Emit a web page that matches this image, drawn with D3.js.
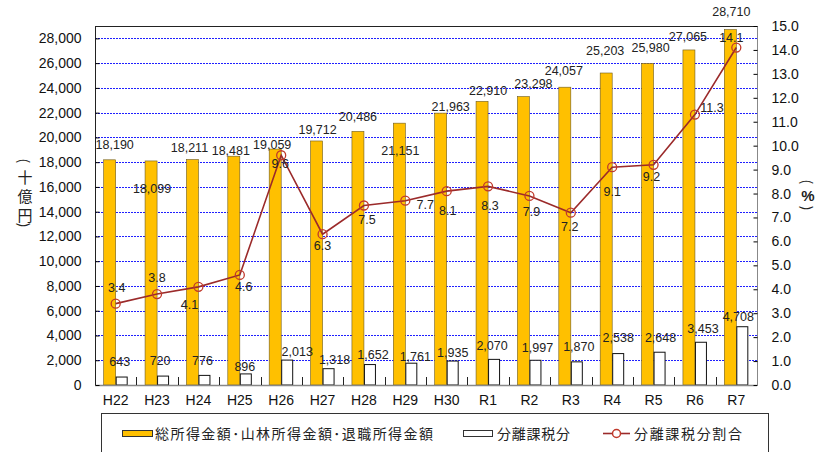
<!DOCTYPE html>
<html>
<head>
<meta charset="utf-8">
<script src="https://cdn.jsdelivr.net/npm/d3@7"></script>
<style>
  body { margin: 0; background: #fff; }
  svg { display: block; }
  text { font-family: "Liberation Sans", Arial, sans-serif; }
  .jp { font-family: "Noto Sans CJK JP", sans-serif; }
</style>
</head>
<body>
<div id="chart"></div>
<script>
// data
const years = ['H22','H23','H24','H25','H26','H27','H28','H29','H30','R1','R2','R3','R4','R5','R6','R7'];
const totalIncome = [18190,18099,18211,18481,19059,19712,20486,21151,21963,22910,23298,24057,25203,25980,27065,28710];
const separateTax = [643,720,776,896,2013,1318,1652,1761,1935,2070,1997,1870,2538,2648,3453,4708];
const separateRatio = [3.4,3.8,4.1,4.6,9.6,6.3,7.5,7.7,8.1,8.3,7.9,7.2,9.1,9.2,11.3,14.1];
const leftTicks = [0,2000,4000,6000,8000,10000,12000,14000,16000,18000,20000,22000,24000,26000,28000];
const rightTicks = [0,1,2,3,4,5,6,7,8,9,10,11,12,13,14,15];
const legendNames = ['総所得金額･山林所得金額･退職所得金額', '分離課税分', '分離課税分割合'];
const leftTitle = ['(','十','億','円',')'];
const rightTitle = ['(','%',')'];

// label nudges [dx, dy] (layout only)
const totalNudge = [[-1,-15],[-5,28],[-9,-12],[-9,-6],[-9,-4],[-5,-11],[-6,-15],[-5,27],[4,-6],[0,-11],[4,-13],[-7,-17],[-7,-22],[-3,-16],[-7,-13],[-5,-18]];
const sepNudge = [[4,-15],[3,-15],[4,-15],[5,-7],[16,-8],[12,-9],[9,-10],[10,-7],[6,-8],[4,-14],[8,-13],[8,-15],[6,-16],[7,-15],[8,-14],[2,-10]];
const ratioNudge = [[1,-16],[0,-16],[-9,18],[4,12],[-1,8],[0,11],[3,14],[20,4],[1,19],[2,19],[2,16],[-1,14],[0,24],[-2,12],[17,-7],[-5,-10]];

const W = 825, H = 452;
const m = { left: 95, right: 757, top: 26, bottom: 385 };
const colors = { orange: '#FFC000', line: '#9B2A2A', marker: '#C0392B', grid: '#1F1FFF' };

const svg = d3.select('#chart').append('svg').attr('width', W).attr('height', H);

const x = d3.scaleBand().domain(years).range([m.left, m.right]);
const yL = d3.scaleLinear().domain([0, 29000]).range([m.bottom, m.top]);
const yR = d3.scaleLinear().domain([0, 15]).range([m.bottom, m.top]);
const barW = 12;
const cx = d => x(d) + x.bandwidth() / 2;

// grid
svg.append('g').attr('shape-rendering', 'crispEdges').selectAll('line')
  .data(leftTicks.filter(d => d > 0))
  .enter().append('line')
  .attr('x1', m.left).attr('x2', m.right)
  .attr('y1', d => Math.round(yL(d)) + 0.5).attr('y2', d => Math.round(yL(d)) + 0.5)
  .attr('stroke', colors.grid).attr('stroke-width', 1).attr('stroke-dasharray', '2,1');

// bars
svg.append('g').selectAll('rect')
  .data(years)
  .enter().append('rect')
  .attr('x', d => cx(d) - barW)
  .attr('y', (d, i) => yL(totalIncome[i]))
  .attr('width', barW)
  .attr('height', (d, i) => m.bottom - yL(totalIncome[i]))
  .attr('fill', colors.orange).attr('stroke', '#6b5a20').attr('stroke-width', 0.6);

svg.append('g').selectAll('rect')
  .data(years)
  .enter().append('rect')
  .attr('x', d => cx(d) + 0.5)
  .attr('y', (d, i) => yL(separateTax[i]))
  .attr('width', barW - 1)
  .attr('height', (d, i) => m.bottom - yL(separateTax[i]))
  .attr('fill', '#fff').attr('stroke', '#111').attr('stroke-width', 1);

// frame and axes
svg.append('line').attr('x1', m.left).attr('x2', m.right).attr('y1', m.top + 0.5).attr('y2', m.top + 0.5)
  .attr('stroke', '#222').attr('stroke-width', 1.2);
svg.append('line').attr('x1', m.left).attr('x2', m.right).attr('y1', m.bottom + 0.5).attr('y2', m.bottom + 0.5)
  .attr('stroke', '#888').attr('stroke-width', 1.5);

const axL = svg.append('g').attr('transform', 'translate(' + (m.left + 0.5) + ',0)')
  .call(d3.axisLeft(yL).tickValues(leftTicks).tickSize(-4).tickPadding(14).tickFormat(d3.format(',')));
axL.select('.domain').attr('stroke', '#222').attr('d', 'M0,' + m.top + 'V' + m.bottom);
axL.selectAll('text').attr('font-size', 14).attr('fill', '#111').attr('font-family', '"Liberation Sans", Arial, sans-serif');

const axR = svg.append('g').attr('transform', 'translate(' + (m.right + 0.5) + ',0)')
  .call(d3.axisRight(yR).tickValues(rightTicks).tickSize(-4).tickPadding(14).tickFormat(d3.format('.1f')));
axR.select('.domain').attr('stroke', '#888').attr('d', 'M0,' + m.top + 'V' + m.bottom);
axR.selectAll('text').attr('font-size', 14).attr('fill', '#111').attr('font-family', '"Liberation Sans", Arial, sans-serif');

const axB = svg.append('g').attr('transform', 'translate(0,' + (m.bottom + 0.5) + ')')
  .call(d3.axisBottom(x).tickSize(0).tickPadding(10));
axB.select('.domain').remove();
axB.selectAll('text').attr('font-size', 14).attr('fill', '#111').attr('font-family', '"Liberation Sans", Arial, sans-serif');
// inward category separators
svg.append('g').selectAll('line')
  .data(years.slice(1))
  .enter().append('line')
  .attr('x1', d => Math.round(x(d)) + 0.5).attr('x2', d => Math.round(x(d)) + 0.5)
  .attr('y1', m.bottom).attr('y2', m.bottom - 8)
  .attr('stroke', '#222');

// axis titles, one glyph per row; parentheses turned to lie flat,
// centred on their own bounding box
const isParen = d => d === '(' || d === ')';
function stackTitle(chars, px, ys, bold) {
  svg.append('g').selectAll('text').data(chars).enter().append('text')
    .attr('class', d => d === '%' ? null : 'jp')
    .attr('font-size', d => isParen(d) ? 14 : 15).attr('fill', '#222')
    .attr('font-weight', d => d === '%' && bold ? 'bold' : null)
    .text(d => d)
    .each(function (d, i) {
      const b = this.getBBox();
      const mx = b.x + b.width / 2, my = b.y + b.height / 2;
      d3.select(this).attr('transform', 'translate(' + px + ',' + ys[i] + ')' +
        (isParen(d) ? ' rotate(90)' : '') + ' translate(' + (-mx) + ',' + (-my) + ')');
    });
}
stackTitle(leftTitle, 25, [161, 176, 195, 214, 225], false);
stackTitle(rightTitle, 808, [182, 195, 208], true);

// ratio line
const line = d3.line().x(d => cx(d.year)).y(d => yR(d.v));
const pts = years.map((y, i) => ({ year: y, v: separateRatio[i] }));
svg.append('path').datum(pts).attr('d', line)
  .attr('fill', 'none').attr('stroke', colors.line).attr('stroke-width', 1.6);
svg.append('g').selectAll('circle')
  .data(pts).enter().append('circle')
  .attr('cx', d => cx(d.year)).attr('cy', d => yR(d.v)).attr('r', 4.5)
  .attr('fill', 'none').attr('stroke', colors.marker).attr('stroke-width', 1.3);

// data labels
const lab = () => svg.append('g').attr('font-size', 12.5).attr('fill', '#222').attr('text-anchor', 'middle');
lab().selectAll('text').data(years).enter().append('text')
  .attr('x', (d, i) => cx(d) + totalNudge[i][0])
  .attr('y', (d, i) => yL(totalIncome[i]) + totalNudge[i][1])
  .attr('dy', '0.35em')
  .text((d, i) => d3.format(',')(totalIncome[i]));
lab().selectAll('text').data(years).enter().append('text')
  .attr('x', (d, i) => cx(d) + sepNudge[i][0])
  .attr('y', (d, i) => yL(separateTax[i]) + sepNudge[i][1])
  .attr('dy', '0.35em')
  .text((d, i) => d3.format(',')(separateTax[i]));
lab().selectAll('text').data(years).enter().append('text')
  .attr('x', (d, i) => cx(d) + ratioNudge[i][0])
  .attr('y', (d, i) => yR(separateRatio[i]) + ratioNudge[i][1])
  .attr('dy', '0.35em')
  .text((d, i) => d3.format('.1f')(separateRatio[i]));

// legend
const lg = svg.append('g');
lg.append('rect').attr('x', 101.5).attr('y', 413.5).attr('width', 667).attr('height', 60)
  .attr('fill', '#fff').attr('stroke', '#333');
lg.append('rect').attr('x', 122.5).attr('y', 430.5).attr('width', 30).attr('height', 6)
  .attr('fill', colors.orange).attr('stroke', '#333');
lg.append('rect').attr('x', 463.5).attr('y', 430.5).attr('width', 29).attr('height', 6)
  .attr('fill', '#fff').attr('stroke', '#333');
lg.append('line').attr('x1', 603).attr('x2', 630).attr('y1', 433.5).attr('y2', 433.5)
  .attr('stroke', colors.line).attr('stroke-width', 1.6);
lg.append('circle').attr('cx', 616.5).attr('cy', 433.5).attr('r', 4)
  .attr('fill', '#fff').attr('stroke', colors.marker).attr('stroke-width', 1.5);
const legX = [155, 497, 634];
const legLen = [278, 73, 108];
lg.selectAll('text.leg').data(legendNames).enter().append('text')
  .attr('class', 'jp leg')
  .attr('x', (d, i) => legX[i]).attr('y', 434).attr('dy', '0.35em')
  .attr('font-size', 14).attr('fill', '#222')
  .attr('textLength', (d, i) => legLen[i]).attr('lengthAdjust', 'spacing')
  .text(d => d);
</script>
</body>
</html>
